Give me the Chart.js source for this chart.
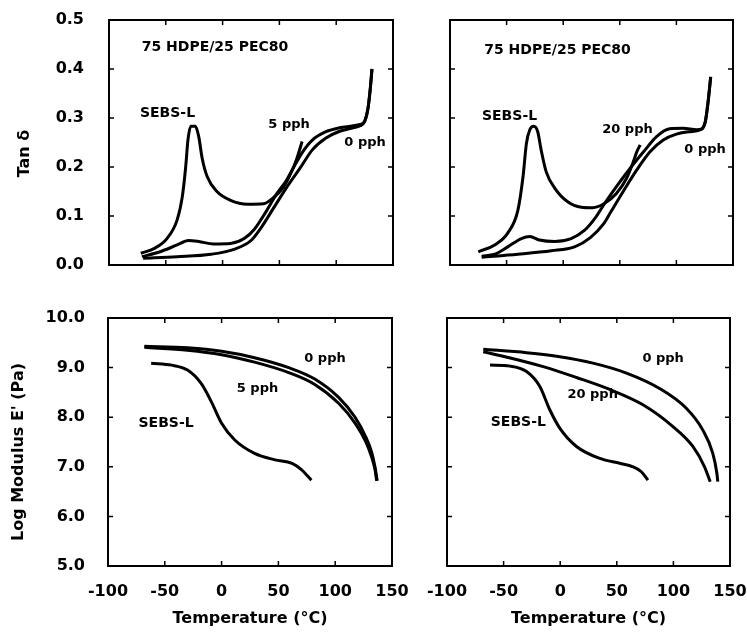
<!DOCTYPE html>
<html>
<head>
<meta charset="utf-8">
<title>Tan delta and modulus vs temperature</title>
<script src="https://cdn.jsdelivr.net/npm/chart.js@4/dist/chart.umd.min.js"></script>
<style>
  body { margin: 0; background: #fff; }
  #wrap { position: relative; width: 747px; height: 632px; background: #fff; }
  canvas { position: absolute; }
</style>
</head>
<body>
<div id="wrap">
  <canvas id="tan5" width="420" height="290" style="left:0;top:0;width:420px;height:290px"></canvas>
  <canvas id="tan20" width="327" height="290" style="left:420px;top:0;width:327px;height:290px"></canvas>
  <canvas id="mod5" width="420" height="342" style="left:0;top:290px;width:420px;height:342px"></canvas>
  <canvas id="mod20" width="327" height="342" style="left:420px;top:290px;width:327px;height:342px"></canvas>
</div>
<script>
// axis ticks
const tempTicks = [-100, -50, 0, 50, 100, 150];
const tanTicks = [0, 0.1, 0.2, 0.3, 0.4, 0.5];
const modTicks = [5, 6, 7, 8, 9, 10];

// tan delta, 75 HDPE/25 PEC80 + 5 pph
const tan5Temp_SEBS = [-72, -60, -49, -40, -35.5, -32.5, -30.5, -28, -24, -21, -18, -13.5, -5, 7, 22, 36, 44, 53, 60, 65, 70];
const tan5_SEBS = [0.024, 0.034, 0.054, 0.092, 0.139, 0.200, 0.255, 0.283, 0.283, 0.262, 0.218, 0.180, 0.150, 0.132, 0.124, 0.125, 0.136, 0.157, 0.187, 0.215, 0.252];
const tan5Temp_5pph = [-71, -55, -40, -30, -21, -8, 7, 19, 28, 38, 47, 56, 62, 70.5, 79, 91, 103, 115, 121, 125, 128, 130, 131.5];
const tan5_5pph = [0.017, 0.027, 0.041, 0.050, 0.048, 0.043, 0.044, 0.054, 0.073, 0.108, 0.143, 0.172, 0.197, 0.231, 0.255, 0.272, 0.280, 0.284, 0.287, 0.293, 0.320, 0.360, 0.400];
const tan5Temp_0pph = [-70, -40, -10, 10, 25, 35, 44, 56, 68, 79, 91, 103, 115, 121, 125, 128, 130, 131.5];
const tan5_0pph = [0.014, 0.017, 0.022, 0.032, 0.050, 0.080, 0.113, 0.157, 0.197, 0.235, 0.259, 0.273, 0.280, 0.284, 0.293, 0.320, 0.360, 0.400];

// tan delta, 75 HDPE/25 PEC80 + 20 pph
const tan20Temp_SEBS = [-75, -60.5, -49, -40, -35.5, -32.5, -29.5, -26, -22.5, -19.5, -15, -7.5, 4, 16, 26, 36, 47, 56, 62, 65, 68];
const tan20_SEBS = [0.027, 0.041, 0.065, 0.112, 0.180, 0.248, 0.276, 0.283, 0.272, 0.235, 0.190, 0.157, 0.129, 0.118, 0.117, 0.125, 0.146, 0.177, 0.211, 0.231, 0.245];
const tan20Temp_20pph = [-72, -60.5, -49, -37, -29.5, -21, -7.5, 7, 19, 28, 37, 47, 59, 71, 82.5, 94, 106, 118, 122, 125.5, 128, 130.3];
const tan20_20pph = [0.018, 0.022, 0.037, 0.054, 0.058, 0.051, 0.048, 0.054, 0.071, 0.095, 0.127, 0.160, 0.197, 0.231, 0.262, 0.278, 0.279, 0.276, 0.277, 0.292, 0.333, 0.384];
const tan20Temp_0pph = [-72, -40, -10.5, 10, 24, 36, 42, 53, 65, 76.7, 88.4, 100, 112, 121, 125.5, 128, 130.3];
const tan20_0pph = [0.016, 0.022, 0.029, 0.037, 0.056, 0.085, 0.108, 0.150, 0.194, 0.231, 0.255, 0.267, 0.272, 0.276, 0.292, 0.333, 0.384];

// log modulus E', 5 pph panel
const mod5Temp_0pph = [-68, -30, 0, 29, 59, 82, 103, 117.5, 127, 132, 135, 137];
const mod5_0pph = [9.43, 9.40, 9.33, 9.20, 9.00, 8.77, 8.40, 8.00, 7.60, 7.30, 7.00, 6.72];
const mod5Temp_5pph = [-68, -30, 0, 29, 59, 82, 103, 117.5, 127, 132, 135, 136.5];
const mod5_5pph = [9.41, 9.35, 9.26, 9.11, 8.90, 8.66, 8.28, 7.88, 7.50, 7.20, 6.95, 6.72];
const mod5Temp_SEBS = [-62, -44, -30, -18, -9, 0, 11.6, 29, 47, 62, 70.5, 79];
const mod5_SEBS = [9.09, 9.05, 8.95, 8.68, 8.31, 7.88, 7.54, 7.27, 7.14, 7.07, 6.94, 6.73];

// log modulus E', 20 pph panel
const mod20Temp_0pph = [-68, -29.7, -0.4, 29, 58.5, 87.8, 111.4, 126, 134.8, 138.4, 139.2];
const mod20_0pph = [9.37, 9.30, 9.22, 9.09, 8.89, 8.58, 8.18, 7.74, 7.27, 6.87, 6.70];
const mod20Temp_20pph = [-68, -45, -15, 14.4, 43.7, 73.1, 99.6, 117.2, 127.5, 132.5];
const mod20_20pph = [9.32, 9.20, 9.02, 8.80, 8.56, 8.25, 7.81, 7.41, 7.00, 6.70];
const mod20Temp_SEBS = [-62, -44.4, -29.7, -18, -9.2, -0.4, 14.4, 35, 52.6, 64.3, 71.7, 77.5];
const mod20_SEBS = [9.05, 9.03, 8.92, 8.62, 8.15, 7.78, 7.41, 7.17, 7.07, 7.00, 6.90, 6.73];

Chart.defaults.font.family = "'DejaVu Sans', sans-serif";
Chart.defaults.font.weight = "bold";
Chart.defaults.font.size = 16;
Chart.defaults.color = "#000";

// box round the plot area, with ticks pointing inwards on all four sides
const framePlugin = {
  id: "frame",
  afterDraw(chart) {
    const { ctx, chartArea: a, scales: { x, y } } = chart;
    ctx.save();
    ctx.strokeStyle = "#000";
    ctx.lineWidth = 2;
    ctx.strokeRect(a.left, a.top, a.right - a.left, a.bottom - a.top);
    ctx.lineWidth = 1.5;
    ctx.beginPath();
    x.ticks.forEach(t => {
      if (t.value <= x.min || t.value >= x.max) return;
      const px = x.getPixelForValue(t.value);
      ctx.moveTo(px, a.bottom); ctx.lineTo(px, a.bottom - 5);
      ctx.moveTo(px, a.top); ctx.lineTo(px, a.top + 5);
    });
    y.ticks.forEach(t => {
      if (t.value <= y.min || t.value >= y.max) return;
      const py = y.getPixelForValue(t.value);
      ctx.moveTo(a.left, py); ctx.lineTo(a.left + 5, py);
      ctx.moveTo(a.right, py); ctx.lineTo(a.right - 5, py);
    });
    ctx.stroke();
    ctx.restore();
  }
};

// in-plot text labels (data coordinates) and the rotated y-axis title
const textPlugin = {
  id: "panelText",
  afterDatasetsDraw(chart, args, opts) {
    const { ctx, chartArea: a, scales: { x, y } } = chart;
    ctx.save();
    ctx.fillStyle = "#000";
    ctx.textAlign = "center";
    ctx.textBaseline = "middle";
    (opts.items || []).forEach(it => {
      ctx.font = "bold " + it.size + "px 'DejaVu Sans', sans-serif";
      ctx.fillText(it.text, x.getPixelForValue(it.x), y.getPixelForValue(it.y));
    });
    if (opts.yTitle) {
      ctx.font = "bold 16px 'DejaVu Sans', sans-serif";
      ctx.translate(opts.yTitleX, (a.top + a.bottom) / 2 + opts.yTitleShift);
      ctx.rotate(-Math.PI / 2);
      ctx.fillText(opts.yTitle, 0, 0);
    }
    ctx.restore();
  }
};

function line(temps, vals) {
  return {
    data: temps.map((t, i) => ({ x: t, y: vals[i] })),
    borderColor: "#000",
    borderWidth: 3,
    pointRadius: 0,
    fill: false,
    cubicInterpolationMode: "monotone",
  };
}

// fixed axis size; label overhang is already covered by the layout padding
function fixSize(s, w, h) {
  if (w !== null) s.width = w;
  if (h !== null) s.height = h;
  s.paddingLeft = s.paddingRight = s.paddingTop = s.paddingBottom = 0;
}

function makePanel(id, cfg) {
  return new Chart(document.getElementById(id), {
    type: "line",
    data: { datasets: cfg.series },
    options: {
      responsive: false,
      animation: false,
      layout: { padding: { top: cfg.padTop, right: cfg.padRight, left: 0, bottom: 0 } },
      plugins: {
        legend: { display: false },
        tooltip: { enabled: false },
        panelText: { items: cfg.labels, yTitle: cfg.yTitle, yTitleX: cfg.yTitleX, yTitleShift: cfg.yTitleShift },
      },
      scales: {
        x: {
          type: "linear",
          min: tempTicks[0],
          max: tempTicks[tempTicks.length - 1],
          afterBuildTicks: s => { s.ticks = tempTicks.map(v => ({ value: v })); },
          afterFit: s => fixSize(s, null, cfg.xHeight),
          grid: { display: false, drawTicks: false },
          border: { display: false },
          ticks: { display: cfg.showX, padding: 16, autoSkip: false, maxRotation: 0,
                   callback: v => String(v) },
          title: { display: cfg.showX, text: "Temperature (°C)", padding: { top: 0, bottom: 4 } },
        },
        y: {
          type: "linear",
          min: cfg.yTicks[0],
          max: cfg.yTicks[cfg.yTicks.length - 1],
          afterBuildTicks: s => { s.ticks = cfg.yTicks.map(v => ({ value: v })); },
          afterFit: s => fixSize(s, cfg.yWidth, null),
          grid: { display: false, drawTicks: false },
          border: { display: false },
          ticks: { display: !!cfg.yTitle, padding: cfg.yPad, callback: v => v.toFixed(1) },
        },
      },
    },
    plugins: [framePlugin, textPlugin],
  });
}

makePanel("tan5", {
  series: [line(tan5Temp_SEBS, tan5_SEBS), line(tan5Temp_5pph, tan5_5pph), line(tan5Temp_0pph, tan5_0pph)],
  yTicks: tanTicks, yTitle: "Tan δ", yTitleX: 25, yTitleShift: 11, yPad: 25,
  padTop: 20, padRight: 27, yWidth: 109, xHeight: 25, showX: false,
  labels: [
    { text: "75 HDPE/25 PEC80", x: -6.7, y: 0.445, size: 14 },
    { text: "SEBS-L", x: -48.5, y: 0.31, size: 14 },
    { text: "5 pph", x: 58.5, y: 0.286, size: 13 },
    { text: "0 pph", x: 125.4, y: 0.249, size: 13 },
  ],
});

makePanel("tan20", {
  series: [line(tan20Temp_SEBS, tan20_SEBS), line(tan20Temp_20pph, tan20_20pph), line(tan20Temp_0pph, tan20_0pph)],
  yTicks: tanTicks, yTitle: null, yPad: 0,
  padTop: 20, padRight: 14, yWidth: 30, xHeight: 25, showX: false,
  labels: [
    { text: "75 HDPE/25 PEC80", x: -5, y: 0.439, size: 14 },
    { text: "SEBS-L", x: -47.4, y: 0.304, size: 14 },
    { text: "20 pph", x: 56.8, y: 0.276, size: 13 },
    { text: "0 pph", x: 125.3, y: 0.235, size: 13 },
  ],
});

makePanel("mod5", {
  series: [line(mod5Temp_0pph, mod5_0pph), line(mod5Temp_5pph, mod5_5pph), line(mod5Temp_SEBS, mod5_SEBS)],
  yTicks: modTicks, yTitle: "Log Modulus E' (Pa)", yTitleX: 19, yTitleShift: 10, yPad: 23,
  padTop: 28, padRight: 28, yWidth: 108, xHeight: 66, showX: true,
  labels: [
    { text: "0 pph", x: 91, y: 9.19, size: 13 },
    { text: "5 pph", x: 31.6, y: 8.57, size: 13 },
    { text: "SEBS-L", x: -48.9, y: 7.88, size: 14 },
  ],
});

makePanel("mod20", {
  series: [line(mod20Temp_0pph, mod20_0pph), line(mod20Temp_20pph, mod20_20pph), line(mod20Temp_SEBS, mod20_SEBS)],
  yTicks: modTicks, yTitle: null, yPad: 0,
  padTop: 28, padRight: 17, yWidth: 27, xHeight: 66, showX: true,
  labels: [
    { text: "0 pph", x: 90.9, y: 9.19, size: 13 },
    { text: "20 pph", x: 28.7, y: 8.45, size: 13 },
    { text: "SEBS-L", x: -37, y: 7.9, size: 14 },
  ],
});
</script>
</body>
</html>
